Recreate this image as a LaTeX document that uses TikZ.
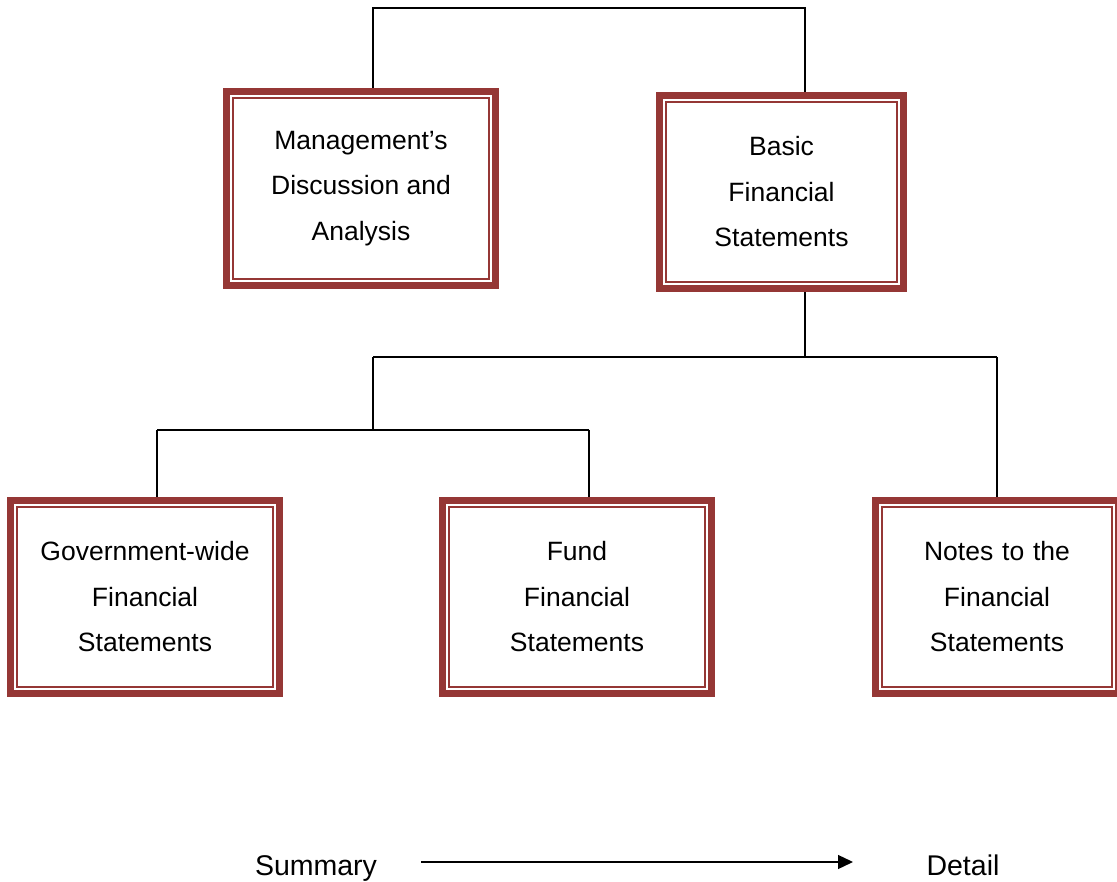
\documentclass[tikz,border=0pt]{standalone}
\usepackage{fontspec}
\setmainfont{Liberation Sans}
\usetikzlibrary{arrows.meta,calc}
\definecolor{boxred}{RGB}{149,55,53}
\pgfdeclarelayer{bg}
\pgfsetlayers{bg,main}
\begin{document}
\begin{tikzpicture}[x=1pt,y=-1pt,
  fbox/.style={draw=boxred, line width=7pt, fill=white, align=center, inner sep=0pt,
    font=\fontsize{26.5}{45.5}\selectfont},
  conn/.style={line width=2pt, black},
  innerframe/.style={draw=boxred, line width=1.6pt},
  lbl/.style={font=\fontsize{28.5}{34}\selectfont, inner sep=0pt, anchor=base},
  arr/.style={line width=1.3pt, -{Triangle[length=15pt,width=14pt]}}
]
\useasboundingbox (0,0) rectangle (1117,882);

\node[fbox, minimum width=269pt, minimum height=194pt] (mda) at (361,188.5) {Management's\\Discussion and\\Analysis};
\node[fbox, minimum width=244pt, minimum height=193pt] (basic) at (781.5,192) {Basic\\Financial\\Statements};
\node[fbox, minimum width=269pt, minimum height=193pt] (gov) at (145,597) {Government-wide\\Financial\\Statements};
\node[fbox, minimum width=269pt, minimum height=193pt] (fund) at (577,597) {Fund\\Financial\\Statements};
\node[fbox, minimum width=243pt, minimum height=193pt, text width=230pt] (notes) at (997,597) {Notes to the\\Financial\\Statements};

\foreach \bx in {mda,basic,gov,fund,notes}{
  \draw[innerframe] ($(\bx.north west)+(10,10)$) rectangle ($(\bx.south east)+(-10,-10)$);
}

\coordinate (t1) at (373,8);
\coordinate (t2) at (805,8);
\coordinate (j1) at (805,357);
\coordinate (j1l) at (373,357);
\coordinate (j1r) at (997,357);
\coordinate (j2) at (373,430);
\coordinate (j2l) at (157,430);
\coordinate (j2r) at (589,430);

\begin{pgfonlayer}{bg}
\draw[conn] (mda.north -| t1) -- (t1) -- (t2) -- (basic.north -| t2);
\draw[conn] (basic.south -| j1) -- (j1);
\draw[conn] (j1l) -- (j1r);
\draw[conn] (j1l) -- (j2);
\draw[conn] (j1r) -- (notes.north -| j1r);
\draw[conn] (j2l) -- (j2r);
\draw[conn] (j2l) -- (gov.north -| j2l);
\draw[conn] (j2r) -- (fund.north -| j2r);
\end{pgfonlayer}

\node[lbl] (sum) at (316,875) {Summary};
\node[lbl] (det) at (963,875) {Detail};
\coordinate (a0) at (421,862);
\coordinate (a1) at (853,862);
\draw[arr] (a0) -- (a1);
\end{tikzpicture}
\end{document}
